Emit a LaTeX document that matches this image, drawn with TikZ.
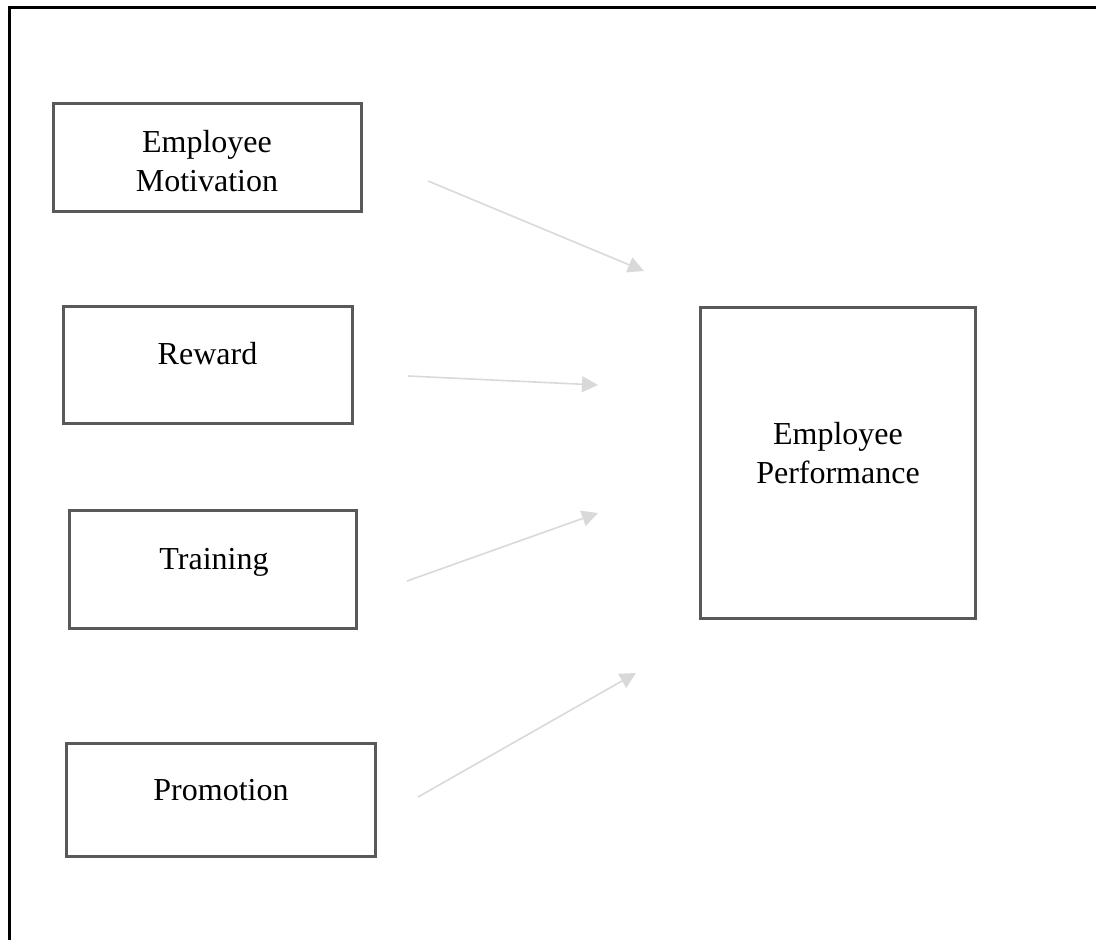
\documentclass[tikz,border=0pt]{standalone}
\usepackage{fontspec}
\setmainfont{Liberation Serif}
\usetikzlibrary{arrows.meta}
\definecolor{boxgray}{HTML}{595959}
\definecolor{arrgray}{HTML}{D9D9D9}
\tikzset{
  box/.style={draw=boxgray, line width=3pt, rectangle, inner sep=0pt, fill=none},
  lbl/.style={anchor=base, inner sep=0pt, text=black, font=\fontsize{32}{39}\selectfont},
  conn/.style={draw=arrgray, line width=1.6pt, -{Triangle[length=16pt,width=16pt]}},
  frame/.style={draw=black, line width=3pt}
}
\newcommand{\twoline}[2]{\begin{tabular}[t]{@{}c@{}}#1\\#2\end{tabular}}
\begin{document}
\begin{tikzpicture}[x=1pt,y=-1pt]
\useasboundingbox (0,0) rectangle (1096,940);
% outer frame (extends beyond right and bottom edges)
\draw[frame] (9,960) -- (9,7) -- (1120,7);
% boxes
\node[box, minimum width=308pt, minimum height=108pt] (mot) at (207.5,157.5) {};
\node[box, minimum width=289pt, minimum height=117pt] (rew) at (208,364.5) {};
\node[box, minimum width=287pt, minimum height=118pt] (tra) at (213,569.5) {};
\node[box, minimum width=309pt, minimum height=113pt] (pro) at (221,800) {};
\node[box, minimum width=275pt, minimum height=311pt] (perf) at (838,463) {};
% labels
\node[lbl] (motl) at (207,152) {\twoline{Employee}{Motivation}};
\node[lbl] (rewl) at (207.5,364) {Reward};
\node[lbl] (tral) at (214,569) {Training};
\node[lbl] (prol) at (221,800) {Promotion};
\node[lbl] (perfl) at (838,444) {\twoline{Employee}{Performance}};
% free-standing connectors
\coordinate (a1s) at (428,181);
\coordinate (a1e) at (644,271);
\coordinate (a2s) at (408,376);
\coordinate (a2e) at (598,385);
\coordinate (a3s) at (407,581);
\coordinate (a3e) at (598,513);
\coordinate (a4s) at (418,797);
\coordinate (a4e) at (636,673);
\draw[conn] (a1s) -- (a1e);
\draw[conn] (a2s) -- (a2e);
\draw[conn] (a3s) -- (a3e);
\draw[conn] (a4s) -- (a4e);
\end{tikzpicture}
\end{document}
